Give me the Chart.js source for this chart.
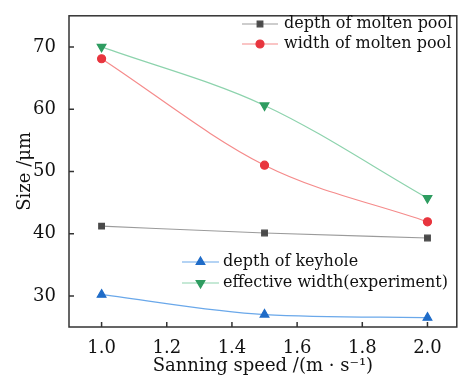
<!DOCTYPE html>
<html>
<head>
<meta charset="utf-8">
<script src="https://cdn.jsdelivr.net/npm/chart.js@4/dist/chart.umd.min.js"></script>
<style>
  html, body { margin: 0; padding: 0; background: #fff; }
  #wrap { width: 463px; height: 381px; }
</style>
</head>
<body>
<div id="wrap"><canvas id="c" width="463" height="381"></canvas></div>
<script>
// 数据
const speeds = [1.0, 1.5, 2.0];
const depthPool = [41.2, 40.1, 39.3];
const widthPool = [68.1, 51.0, 41.9];
const depthKeyhole = [30.2, 27.0, 26.5];
const effWidth = [70.0, 60.6, 45.7];
const xTicks = [1.0, 1.2, 1.4, 1.6, 1.8, 2.0];
const yTicks = [30, 40, 50, 60, 70];

const FONT = '"DejaVu Serif", serif';
const pts = ys => speeds.map((x, i) => ({ x, y: ys[i] }));

const series = [
  { label: 'depth of molten pool', data: depthPool, line: '#9b9b9b', mark: '#4a4a4a', style: 'rect', r: 4, rot: 0 },
  { label: 'width of molten pool', data: widthPool, line: '#f58b8b', mark: '#e8353e', style: 'circle', r: 4, rot: 0 },
  { label: 'depth of keyhole', data: depthKeyhole, line: '#6aa8ea', mark: '#1f6cc8', style: 'triangle', r: 5, rot: 0 },
  { label: 'effective width(experiment)', data: effWidth, line: '#8dd3ad', mark: '#2e9c60', style: 'triangle', r: 5, rot: 180 }
];

// 两组图例，位置单独放
const legends = [
  { items: [0, 1], x1: 242, x2: 278, tx: 284, y: 24, dy: 20 },
  { items: [2, 3], x1: 182, x2: 219, tx: 223, y: 262, dy: 21 }
];

const framePlugin = {
  id: 'frame',
  afterDraw(chart) {
    const { ctx, chartArea: a, scales } = chart;
    ctx.save();
    ctx.strokeStyle = '#333';
    ctx.lineWidth = 1.5;
    ctx.strokeRect(a.left, a.top, a.right - a.left, a.bottom - a.top);
    // 朝内刻度
    ctx.beginPath();
    xTicks.forEach(v => {
      const px = scales.x.getPixelForValue(v);
      ctx.moveTo(px, a.bottom); ctx.lineTo(px, a.bottom - 5);
    });
    yTicks.forEach(v => {
      const py = scales.y.getPixelForValue(v);
      ctx.moveTo(a.left, py); ctx.lineTo(a.left + 5, py);
    });
    ctx.stroke();

    // 图例
    ctx.font = '16px ' + FONT;
    ctx.textBaseline = 'middle';
    legends.forEach(lg => {
      lg.items.forEach((idx, k) => {
        const s = series[idx];
        const y = lg.y + k * lg.dy;
        ctx.strokeStyle = s.line;
        ctx.lineWidth = 1.2;
        ctx.beginPath();
        ctx.moveTo(lg.x1, y); ctx.lineTo(lg.x2, y);
        ctx.stroke();
        ctx.fillStyle = s.mark;
        ctx.strokeStyle = s.mark;
        Chart.helpers.drawPoint(ctx, { pointStyle: s.style, radius: s.r, rotation: s.rot, borderWidth: 1 }, (lg.x1 + lg.x2) / 2, y);
        ctx.fillStyle = '#111';
        ctx.fillText(s.label, lg.tx, y);
      });
    });
    ctx.restore();
  }
};

new Chart(document.getElementById('c'), {
  type: 'scatter',
  data: {
    datasets: series.map(s => ({
      label: s.label,
      data: pts(s.data),
      showLine: true,
      borderColor: s.line,
      borderWidth: 1.2,
      backgroundColor: s.mark,
      pointBorderColor: s.mark,
      pointStyle: s.style,
      pointRadius: s.r,
      pointRotation: s.rot,
      cubicInterpolationMode: 'monotone'
    }))
  },
  options: {
    responsive: false,
    animation: false,
    layout: { padding: { top: 9, right: 2, left: 0, bottom: 0 } },
    plugins: { legend: { display: false }, tooltip: { enabled: false } },
    scales: {
      x: {
        type: 'linear', min: 0.9, max: 2.09,
        afterBuildTicks: s => { s.ticks = xTicks.map(v => ({ value: v })); },
        afterFit: s => { s.height = 54; },
        grid: { display: false },
        border: { display: false },
        ticks: { color: '#111', font: { family: FONT, size: 18 }, padding: 3,
          callback: v => v.toFixed(1) },
        title: { display: true, text: 'Sanning speed /(m · s⁻¹)', color: '#111',
          font: { family: FONT, size: 18 }, padding: { top: 5 } }
      },
      y: {
        min: 25, max: 75,
        afterBuildTicks: s => { s.ticks = yTicks.map(v => ({ value: v })); },
        afterFit: s => { s.width = 69; },
        grid: { display: false },
        border: { display: false },
        ticks: { color: '#111', font: { family: FONT, size: 18 }, padding: 5 },
        title: { display: true, text: 'Size /μm', color: '#111',
          font: { family: FONT, size: 18 }, padding: { top: 15, bottom: 0 } }
      }
    }
  },
  plugins: [framePlugin]
});
</script>
</body>
</html>
